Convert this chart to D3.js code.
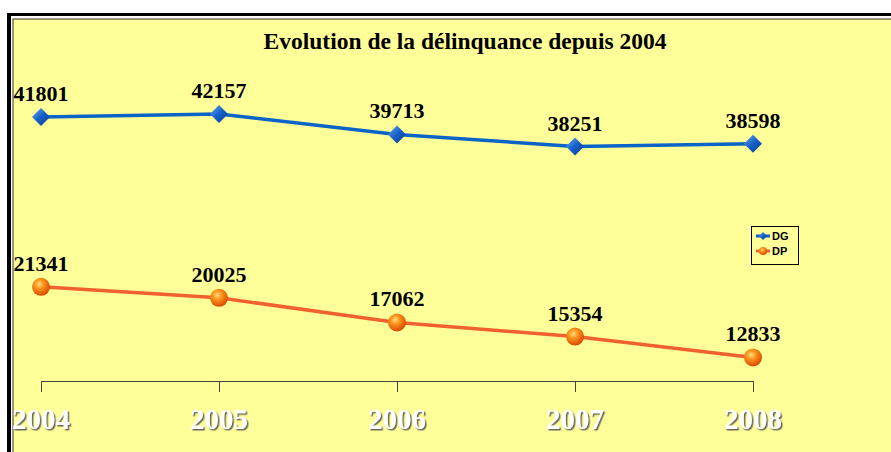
<!DOCTYPE html>
<html><head><meta charset="utf-8">
<script src="https://cdn.jsdelivr.net/npm/d3@7"></script>
<style>body{margin:0;background:#fff;}svg{display:block;}</style>
</head><body>
<script>
const years = ["2004","2005","2006","2007","2008"];
const dg = [41801, 42157, 39713, 38251, 38598];
const dp = [21341, 20025, 17062, 15354, 12833];
const title = "Evolution de la délinquance depuis 2004";

const W = 891, H = 452;
const svg = d3.select("body").append("svg").attr("width", W).attr("height", H);
const defs = svg.append("defs");
const gb = defs.append("linearGradient").attr("id","gblue").attr("x1","0").attr("y1","0").attr("x2","1").attr("y2","1");
gb.append("stop").attr("offset","0").attr("stop-color","#6aa8f0");
gb.append("stop").attr("offset","0.5").attr("stop-color","#1560c8");
gb.append("stop").attr("offset","1").attr("stop-color","#083c90");
const go = defs.append("radialGradient").attr("id","gorange").attr("cx","0.4").attr("cy","0.35").attr("r","0.65");
go.append("stop").attr("offset","0").attr("stop-color","#ffe080");
go.append("stop").attr("offset","0.35").attr("stop-color","#ff9a20");
go.append("stop").attr("offset","1").attr("stop-color","#d84a00");
const sh = defs.append("filter").attr("id","shadow").attr("x","-10%").attr("y","-10%").attr("width","130%").attr("height","140%");
sh.append("feDropShadow").attr("dx",1.5).attr("dy",1.5).attr("stdDeviation",0.6).attr("flood-color","#555").attr("flood-opacity",0.9);

// frame
svg.append("rect").attr("x",13).attr("y",19).attr("width",W).attr("height",H).attr("fill","#ffff99").attr("stroke","#333").attr("stroke-width",1);
svg.append("rect").attr("x",7).attr("y",13).attr("width",4).attr("height",H).attr("fill","#000");
svg.append("rect").attr("x",7).attr("y",13).attr("width",W).attr("height",3).attr("fill","#000");

const x = d3.scalePoint().domain(years).range([41, 753]);
const y = d3.scaleLinear().domain([10000, 50000]).range([381, 49]);

svg.append("text").attr("x", 465).attr("y", 49).attr("text-anchor","middle")
  .attr("font-family","Liberation Serif, serif").attr("font-weight","bold").attr("font-size",23.5).text(title);

// axis
const ax = svg.append("g").attr("transform","translate(0,381)")
  .call(d3.axisBottom(x).tickSize(11).tickSizeOuter(0).tickFormat(""));
ax.select(".domain").attr("stroke","#444").attr("stroke-width",1);
ax.selectAll(".tick line").attr("stroke","#444");
svg.append("g").selectAll("text").data(years).enter().append("text")
  .attr("x", d=>x(d)).attr("y", 429).attr("text-anchor","middle")
  .attr("font-family","Liberation Serif, serif").attr("font-weight","bold").attr("font-size",29)
  .attr("fill","#fff").attr("filter","url(#shadow)").text(d=>d);

const line = d3.line().x((d,i)=>x(years[i])).y(d=>y(d));
svg.append("path").datum(dg).attr("d", line).attr("fill","none").attr("stroke","#0a64c8").attr("stroke-width",3.5);
svg.append("path").datum(dp).attr("d", line).attr("fill","none").attr("stroke","#f06030").attr("stroke-width",3.5);

svg.selectAll(".dgm").data(dg).enter().append("path")
  .attr("transform",(d,i)=>`translate(${x(years[i])},${y(d)})`)
  .attr("d","M0,-9L9,0L0,9L-9,0Z").attr("fill","url(#gblue)");
svg.selectAll(".dpm").data(dp).enter().append("circle")
  .attr("cx",(d,i)=>x(years[i])).attr("cy",d=>y(d)).attr("r",9).attr("fill","url(#gorange)");

function labels(data){
  svg.append("g").selectAll("text").data(data).enter().append("text")
    .attr("x",(d,i)=>x(years[i])).attr("y",d=>y(d)-16).attr("text-anchor","middle")
    .attr("font-family","Liberation Serif, serif").attr("font-weight","bold").attr("font-size",22)
    .text(d=>d);
}
labels(dg); labels(dp);

// legend
const lg = svg.append("g");
lg.append("rect").attr("x",751.5).attr("y",226.5).attr("width",47).attr("height",38).attr("fill","#ffff99").attr("stroke","#000").attr("stroke-width",1);
lg.append("line").attr("x1",756).attr("x2",770).attr("y1",236).attr("y2",236).attr("stroke","#0a64c8").attr("stroke-width",3);
lg.append("path").attr("transform","translate(763,236)").attr("d","M0,-4L4,0L0,4L-4,0Z").attr("fill","url(#gblue)");
lg.append("line").attr("x1",756).attr("x2",770).attr("y1",251).attr("y2",251).attr("stroke","#f06030").attr("stroke-width",3);
lg.append("circle").attr("cx",763).attr("cy",251).attr("r",4).attr("fill","url(#gorange)");
lg.append("text").attr("x",772).attr("y",240).attr("font-family","Liberation Sans, Arial, sans-serif").attr("font-weight","bold").attr("font-size",11).text("DG");
lg.append("text").attr("x",772).attr("y",255).attr("font-family","Liberation Sans, Arial, sans-serif").attr("font-weight","bold").attr("font-size",11).text("DP");
</script>
</body></html>
